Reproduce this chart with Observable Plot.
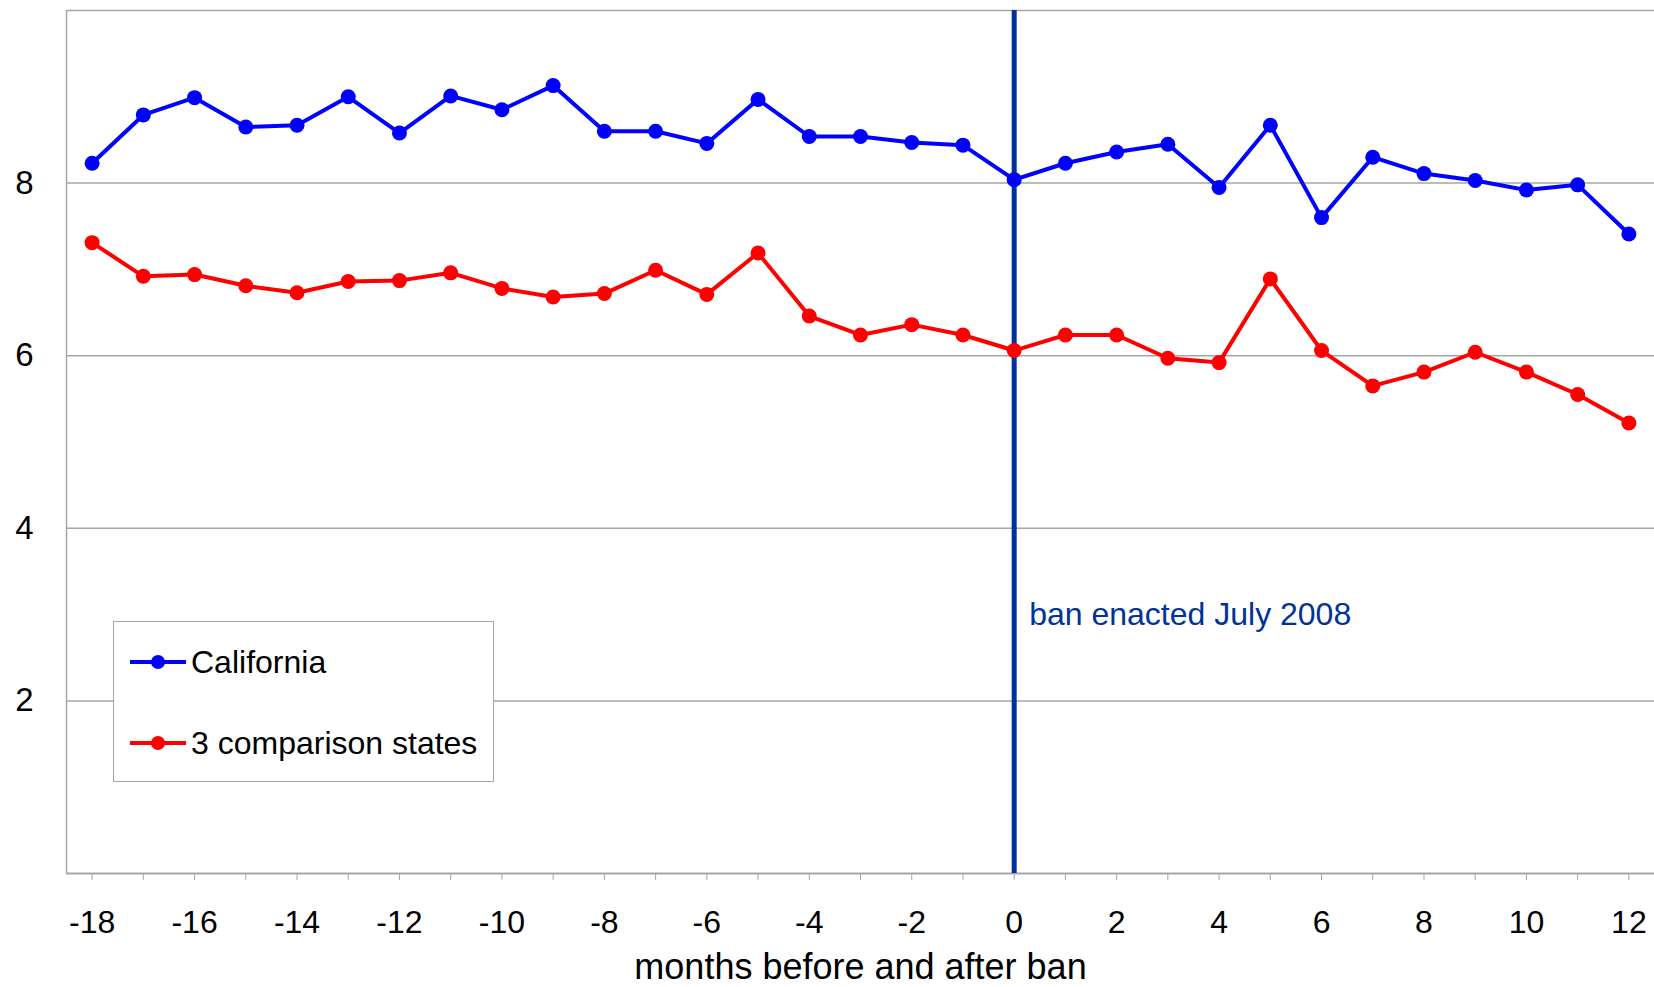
<!DOCTYPE html>
<html><head><meta charset="utf-8">
<script src="https://cdn.jsdelivr.net/npm/d3@7"></script>
<script src="https://cdn.jsdelivr.net/npm/@observablehq/plot@0.6"></script>
<style>
body{margin:0;background:#fff;font-family:"Liberation Sans",Arial,sans-serif;}
#wrap{position:relative;width:1654px;height:987px;overflow:hidden;}
#legend{position:absolute;left:113px;top:621px;width:379px;height:159px;border:1.5px solid #a6a6a6;background:#fff;}
.row{position:absolute;left:16px;height:40px;display:flex;align-items:center;font-size:32px;color:#000;white-space:nowrap;}
.row svg{margin-right:5px;}
</style></head><body><div id="wrap"></div>
<script>
const months=[-18,-17,-16,-15,-14,-13,-12,-11,-10,-9,-8,-7,-6,-5,-4,-3,-2,-1,0,1,2,3,4,5,6,7,8,9,10,11,12];
const california=[8.23,8.79,8.99,8.65,8.67,9.00,8.58,9.01,8.85,9.13,8.60,8.60,8.46,8.97,8.54,8.54,8.47,8.44,8.04,8.23,8.36,8.45,7.95,8.67,7.60,8.30,8.11,8.03,7.92,7.98,7.41];
const comparison=[7.31,6.92,6.94,6.81,6.73,6.86,6.87,6.96,6.78,6.68,6.72,6.99,6.71,7.19,6.46,6.24,6.36,6.24,6.06,6.24,6.24,5.97,5.92,6.89,6.06,5.65,5.81,6.04,5.81,5.55,5.22];
const seriesNames=["California","3 comparison states"];
const seriesColors=["#0000ff","#ff0000"];
const yTicks=[2,4,6,8];
const xLabelTicks=[-18,-16,-14,-12,-10,-8,-6,-4,-2,0,2,4,6,8,10,12];
const banMonth=[0];
const banLabel="ban enacted July 2008";
const banLabelY=3;
const xTitle="months before and after ban";
const xDomain=[-18.5,12.5];
const yDomain=[0,10];

const data=months.flatMap((m,i)=>[
  {month:m,value:california[i],series:seriesNames[0]},
  {month:m,value:comparison[i],series:seriesNames[1]}
]);

const grey="#a6a6a6";
const fmt=d=>String(d);
const chart=Plot.plot({
  width:1654,height:987,
  marginLeft:66,marginRight:0,marginTop:10,marginBottom:114,
  style:{fontFamily:"'Liberation Sans',Arial,sans-serif",fontSize:"32px",color:"#000",background:"#fff",overflow:"visible"},
  x:{domain:xDomain,label:null},
  y:{domain:yDomain,label:null},
  color:{domain:seriesNames,range:seriesColors},
  marks:[
    Plot.gridY(yTicks,{stroke:grey,strokeOpacity:1,strokeWidth:1.5}),
    Plot.ruleY([yDomain[1]],{stroke:grey,strokeWidth:1.5}),
    Plot.ruleX([xDomain[0]],{stroke:grey,strokeWidth:1.5}),
    Plot.ruleY([yDomain[0]],{stroke:grey,strokeWidth:2}),
    Plot.axisX(months,{tickSize:7,stroke:grey,strokeOpacity:1,tickFormat:()=>"",label:null}),
    Plot.axisX(xLabelTicks,{tickSize:0,tickPadding:37,fontSize:32,fill:"#000",tickFormat:fmt,label:null}),
    Plot.axisY(yTicks,{tickSize:0,tickPadding:33,fontSize:33,fill:"#000",tickFormat:fmt,label:null}),
    Plot.ruleX(banMonth,{stroke:"#003399",strokeWidth:5}),
    Plot.text(banMonth,{x:d=>d,y:()=>banLabelY,text:()=>banLabel,textAnchor:"start",dx:15,fill:"#003399",fontSize:32}),
    Plot.line(data,{x:"month",y:"value",stroke:"series",z:"series",strokeWidth:4}),
    Plot.dot(data,{x:"month",y:"value",fill:"series",r:7.5}),
    Plot.text([xTitle],{frameAnchor:"bottom",lineAnchor:"middle",dy:94,fontSize:36,fill:"#000"})
  ]
});
const wrap=document.getElementById("wrap");
wrap.appendChild(chart);

const legend=document.createElement("div");
legend.id="legend";
const rowCenters=[40,121];
seriesNames.forEach((name,i)=>{
  const row=document.createElement("div");
  row.className="row";
  row.style.top=(rowCenters[i]-20)+"px";
  row.innerHTML=`<svg width="56" height="20"><line x1="0" x2="56" y1="10" y2="10" stroke="${seriesColors[i]}" stroke-width="4"/><circle cx="28" cy="10" r="7" fill="${seriesColors[i]}"/></svg><span>${name}</span>`;
  legend.appendChild(row);
});
wrap.appendChild(legend);
</script>
</body></html>
